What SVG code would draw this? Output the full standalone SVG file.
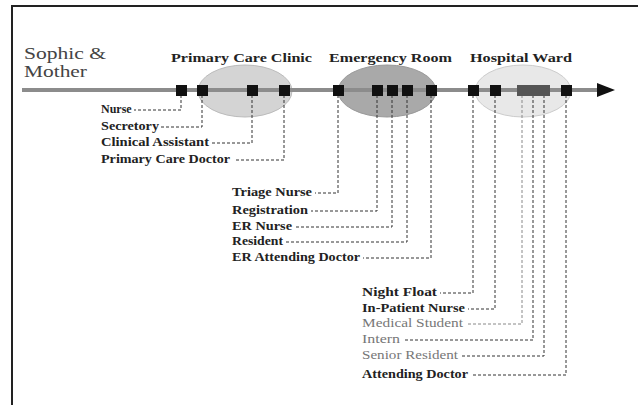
<svg xmlns="http://www.w3.org/2000/svg" width="638" height="405" viewBox="0 0 638 405">
<style>
.t{font-family:"Liberation Serif","Times New Roman",serif;font-size:12px;font-weight:bold;fill:#222}
.g{font-family:"Liberation Serif","Times New Roman",serif;font-size:12px;fill:#777}
.h{font-family:"Liberation Serif","Times New Roman",serif;font-size:13px;font-weight:bold;fill:#222}
.c{fill:none;stroke:#333;stroke-width:1;stroke-dasharray:3 2}
.cg{fill:none;stroke:#888;stroke-width:1;stroke-dasharray:3 2}
.sq{fill:#111}
.sqg{fill:#555}
</style>
<rect width="638" height="405" fill="#fff"/>
<path d="M12,405 V6 H638" fill="none" stroke="#222" stroke-width="2"/>
<g id="subject">
<text x="24" y="59" font-family="Liberation Serif, serif" font-size="17" fill="#444" textLength="82" lengthAdjust="spacingAndGlyphs">Sophic &amp;</text>
<text x="24" y="77" font-family="Liberation Serif, serif" font-size="17" fill="#444" textLength="63" lengthAdjust="spacingAndGlyphs">Mother</text>
</g>
<g id="primary-care-clinic">
<ellipse cx="245" cy="91" rx="47" ry="26" fill="#d4d4d4" stroke="#bbb"/>
<text class="h" x="171" y="62" textLength="141" lengthAdjust="spacingAndGlyphs">Primary Care Clinic</text>
</g>
<g id="emergency-room">
<ellipse cx="387" cy="91" rx="49" ry="26" fill="#a9a9a9" stroke="#999"/>
<text class="h" x="329" y="62" textLength="123" lengthAdjust="spacingAndGlyphs">Emergency Room</text>
</g>
<g id="hospital-ward">
<ellipse cx="523" cy="91" rx="48" ry="26" fill="#e8e8e8" stroke="#ccc"/>
<text class="h" x="470" y="62" textLength="102" lengthAdjust="spacingAndGlyphs">Hospital Ward</text>
</g>
<g id="timeline">
<line x1="22" y1="90" x2="600" y2="90" stroke="#8c8c8c" stroke-width="4"/>
<polygon points="597,83 615,90 597,97" fill="#111"/>
</g>
<g id="connectors">
<path class="c" d="M181,95 V110 H134"/>
<path class="c" d="M202,95 V127 H161"/>
<path class="c" d="M252,95 V143 H211"/>
<path class="c" d="M284,95 V160 H235"/>
<path class="c" d="M338,95 V193 H315"/>
<path class="c" d="M377,95 V211 H311"/>
<path class="c" d="M392,95 V227 H295"/>
<path class="c" d="M407,95 V242 H286"/>
<path class="c" d="M431,95 V258 H363"/>
<path class="c" d="M473,95 V293 H440"/>
<path class="c" d="M495,95 V309 H468"/>
<path class="cg" d="M522,95 V324 H466"/>
<path class="c" d="M533,95 V340 H403"/>
<path class="c" d="M544,95 V356 H461"/>
<path class="c" d="M566,95 V375 H471"/>
</g>
<g id="encounters">
<rect class="sq" x="176" y="85" width="11" height="11"/>
<rect class="sq" x="197" y="85" width="11" height="11"/>
<rect class="sq" x="247" y="85" width="11" height="11"/>
<rect class="sq" x="279" y="85" width="11" height="11"/>
<rect class="sq" x="333" y="85" width="11" height="11"/>
<rect class="sq" x="372" y="85" width="11" height="11"/>
<rect class="sq" x="387" y="85" width="11" height="11"/>
<rect class="sq" x="402" y="85" width="11" height="11"/>
<rect class="sq" x="426" y="85" width="11" height="11"/>
<rect class="sq" x="468" y="85" width="11" height="11"/>
<rect class="sq" x="490" y="85" width="11" height="11"/>
<rect class="sqg" x="517" y="85" width="11" height="11"/>
<rect class="sqg" x="528" y="85" width="11" height="11"/>
<rect class="sqg" x="539" y="85" width="11" height="11"/>
<rect class="sq" x="561" y="85" width="11" height="11"/>
</g>
<g id="nurse"><text class="t" x="101" y="113">Nurse</text></g>
<g id="secretory"><text class="t" x="101" y="130" textLength="58" lengthAdjust="spacingAndGlyphs">Secretory</text></g>
<g id="clinical-assistant"><text class="t" x="101" y="146" textLength="108" lengthAdjust="spacingAndGlyphs">Clinical Assistant</text></g>
<g id="primary-care-doctor"><text class="t" x="101" y="163" textLength="129" lengthAdjust="spacingAndGlyphs">Primary Care Doctor</text></g>
<g id="triage-nurse"><text class="t" x="232" y="196" textLength="80" lengthAdjust="spacingAndGlyphs">Triage Nurse</text></g>
<g id="registration"><text class="t" x="232" y="214" textLength="76" lengthAdjust="spacingAndGlyphs">Registration</text></g>
<g id="er-nurse"><text class="t" x="232" y="230" textLength="60" lengthAdjust="spacingAndGlyphs">ER Nurse</text></g>
<g id="resident"><text class="t" x="232" y="245" textLength="51" lengthAdjust="spacingAndGlyphs">Resident</text></g>
<g id="er-attending-doctor"><text class="t" x="232" y="261" textLength="128" lengthAdjust="spacingAndGlyphs">ER Attending Doctor</text></g>
<g id="night-float"><text class="t" x="362" y="296" textLength="75" lengthAdjust="spacingAndGlyphs">Night Float</text></g>
<g id="in-patient-nurse"><text class="t" x="362" y="312" textLength="103" lengthAdjust="spacingAndGlyphs">In-Patient Nurse</text></g>
<g id="medical-student"><text class="g" x="362" y="327" textLength="101" lengthAdjust="spacingAndGlyphs">Medical Student</text></g>
<g id="intern"><text class="g" x="362" y="343" textLength="38" lengthAdjust="spacingAndGlyphs">Intern</text></g>
<g id="senior-resident"><text class="g" x="362" y="359" textLength="96" lengthAdjust="spacingAndGlyphs">Senior Resident</text></g>
<g id="attending-doctor"><text class="t" x="362" y="378" textLength="106" lengthAdjust="spacingAndGlyphs">Attending Doctor</text></g>
</svg>
